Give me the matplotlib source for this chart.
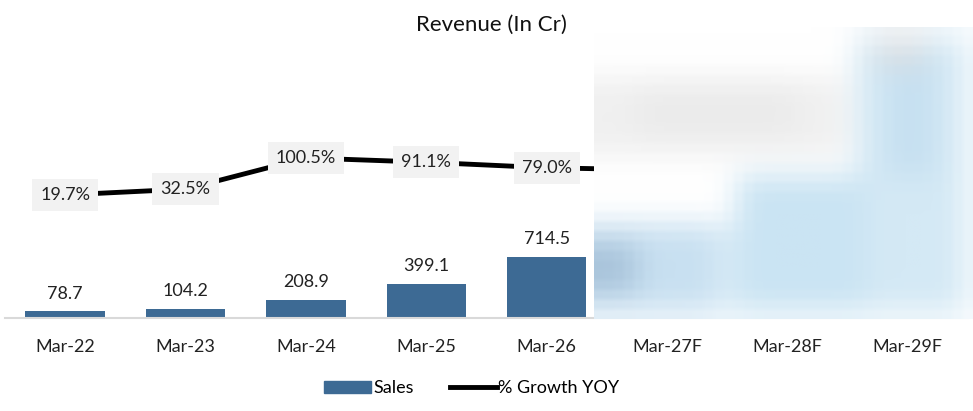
import numpy as np
import matplotlib
matplotlib.use('Agg')
import matplotlib.pyplot as plt
from matplotlib.patches import Patch
from matplotlib.lines import Line2D

plt.rcParams['font.family'] = ['Lato', 'DejaVu Sans']

years = ['Mar-22', 'Mar-23', 'Mar-24', 'Mar-25', 'Mar-26', 'Mar-27F', 'Mar-28F', 'Mar-29F']
sales = [78.7, 104.2, 208.9, 399.1, 714.5]
growth = [19.7, 32.5, 100.5, 91.1, 79.0]
# only the start of this segment shows before the blurred area
growth_next = 74.0

bar_color = '#3d6a94'


def blur_patch(fig):
    # pixelated smear that hides the forecast years in the reference
    h, w = 60, 76
    img = np.ones((h, w, 3))
    def paint(x0, x1, y0, y1, c):
        img[y0:y1, x0:x1] = matplotlib.colors.to_rgb(c)
    paint(0, 50, 10, 26, '#f0f0f0')
    paint(8, 40, 12, 22, '#ebebeb')
    paint(52, 74, 2, 58, '#d4e9f5')
    paint(58, 68, 4, 30, '#c6e0f1')
    paint(56, 66, 2, 8, '#d8dee3')
    paint(28, 54, 30, 58, '#cae4f3')
    paint(0, 24, 40, 58, '#c8e0f1')
    paint(0, 8, 44, 54, '#a8c3da')
    paint(24, 28, 40, 58, '#dcedf7')
    k = np.ones(5) / 5
    for _ in range(4):
        for c in range(3):
            img[:, :, c] = np.apply_along_axis(lambda r: np.convolve(np.pad(r, 2, mode='edge'), k, 'valid'), 1, img[:, :, c])
            img[:, :, c] = np.apply_along_axis(lambda r: np.convolve(np.pad(r, 2, mode='edge'), k, 'valid'), 0, img[:, :, c])
    # coarse blocks like the reference mosaic
    img = img[::2, ::2].repeat(2, axis=0).repeat(2, axis=1)
    bx = fig.add_axes([594 / 973, (411 - 319) / 411, 379 / 973, 292 / 411])
    bx.imshow(img, aspect='auto', interpolation='bilinear')
    bx.axis('off')


fig = plt.figure(figsize=(9.73, 4.11), dpi=100)
ax = fig.add_axes([5 / 973, (411 - 318) / 411, 963 / 973, 278 / 411])
x = np.arange(len(years))
xs = x[:len(sales)]

ax.bar(xs, sales, width=0.66, color=bar_color, zorder=2)
for xi, v in zip(xs, sales):
    ax.annotate(f'{v:.1f}', (xi, v), xytext=(0, 7), textcoords='offset points',
                ha='center', va='bottom', fontsize=13, color='#222222')

ax.set_xlim(-0.5, len(years) - 0.5)
ax.set_ylim(0, 3250)
ax.set_xticks(x)
ax.set_xticklabels(years, fontsize=13, color='#222222')
ax.tick_params(axis='x', length=0, pad=15)
ax.set_yticks([])
for s in ['top', 'right', 'left']:
    ax.spines[s].set_visible(False)
ax.spines['bottom'].set_color('#d9d9d9')
ax.spines['bottom'].set_linewidth(1.5)

ax2 = ax.twinx()
ax2.plot(x[:len(growth) + 1], growth + [growth_next], color='black', lw=3.5, zorder=3)
for xi, v in zip(xs, growth):
    ax2.text(xi, v, f'{v:.1f}%', ha='center', va='center', fontsize=13, color='#222222',
             bbox=dict(boxstyle='square,pad=0.45', fc='#f2f2f2', ec='none'), zorder=4)
ax2.set_ylim(-249, 358)
ax2.set_yticks([])
for s in ax2.spines.values():
    s.set_visible(False)

fig.text(0.505, 0.94, 'Revenue (In Cr)', ha='center', va='center', fontsize=16, color='#111111')

handles = [Patch(color=bar_color, label='Sales'),
           Line2D([0], [0], color='black', lw=3.5, label='% Growth YOY')]
fig.legend(handles=handles, loc='center', bbox_to_anchor=(0.485, 0.055), ncol=2, frameon=False,
           fontsize=13, handlelength=2.6, handletextpad=0.1, columnspacing=2.0)

blur_patch(fig)

fig.savefig('out.png', dpi=100)
